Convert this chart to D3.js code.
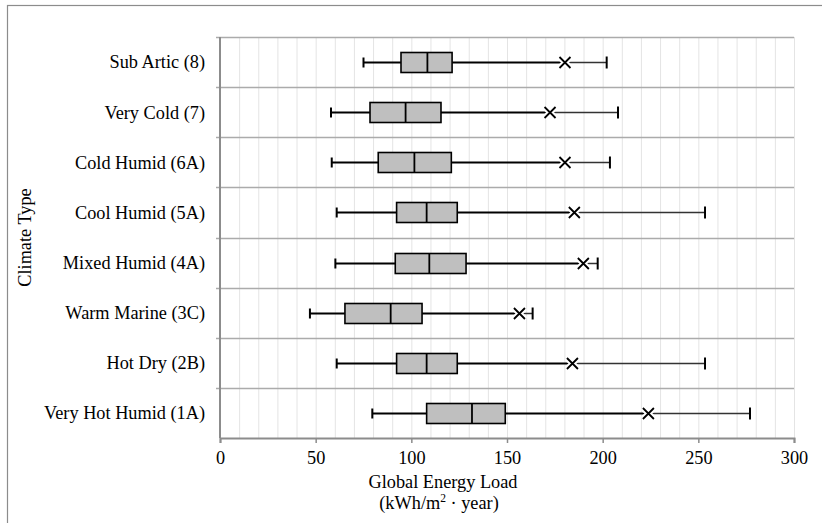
<!DOCTYPE html>
<html>
<head>
<meta charset="utf-8">
<script src="https://cdn.jsdelivr.net/npm/d3@7"></script>
<style>
  body { margin: 0; background: #fff; }
</style>
</head>
<body>
<div id="chart"></div>
<script>
// climate zones, top to bottom
var climates = ["Sub Artic (8)", "Very Cold (7)", "Cold Humid (6A)", "Cool Humid (5A)",
                "Mixed Humid (4A)", "Warm Marine (3C)", "Hot Dry (2B)", "Very Hot Humid (1A)"];
var mins    = [75, 58, 58.4, 61, 60.3, 47, 61, 79.6];
var q1s     = [94.6, 78.4, 82.7, 92.3, 91.6, 65.3, 92.3, 108];
var medians = [108.4, 97, 101.6, 108, 109.4, 89.2, 108, 131.7];
var q3s     = [121.3, 115.5, 120.9, 124, 128.6, 105.6, 124, 149.1];
var means   = [180.3, 172.5, 180.3, 185.2, 189.9, 156.5, 184.2, 223.9];
var maxs    = [202.1, 208, 203.8, 253.5, 197.4, 163.4, 253.5, 277];
var xTicks  = [0, 50, 100, 150, 200, 250, 300];

var FONT = "'Liberation Serif'";
var FS = "18.3px";

var W = 822, H = 523;
var margin = {top: 37, right: 28, bottom: 85, left: 220};
var width = W - margin.left - margin.right,
    height = H - margin.top - margin.bottom;

var svg = d3.select("#chart").append("svg")
    .attr("width", W).attr("height", H);

// outer frame
svg.append("rect")
    .attr("x", 7.5).attr("y", 5.5)
    .attr("width", W).attr("height", H)
    .attr("fill", "none").attr("stroke", "#8c8c8c").attr("stroke-width", 1.2);

var g = svg.append("g").attr("transform", "translate(" + margin.left + "," + margin.top + ")");

var x = d3.scaleLinear().domain([0, 300]).range([0, width]);
var y = d3.scaleBand().domain(climates).range([0, height]);

// minor vertical grid every 10
g.selectAll(".vgrid").data(d3.range(10, 301, 10)).enter().append("line")
    .attr("x1", function(d){ return x(d) + 0.5; }).attr("x2", function(d){ return x(d) + 0.5; })
    .attr("y1", 0).attr("y2", height)
    .attr("stroke", "#e4e4e4").attr("stroke-width", 1);

// horizontal separators between categories
var seps = climates.map(function(c){ return y(c); });
g.selectAll(".hgrid").data(seps).enter().append("line")
    .attr("x1", -4).attr("x2", width)
    .attr("y1", function(d){ return Math.round(d) + 0.5; })
    .attr("y2", function(d){ return Math.round(d) + 0.5; })
    .attr("stroke", "#ababab").attr("stroke-width", 1.3);

// axes
var xAxis = d3.axisBottom(x).tickValues(xTicks).tickSize(5).tickPadding(8);
var gX = g.append("g").attr("transform", "translate(0," + height + ")").call(xAxis);
gX.attr("font-family", null).attr("font-size", null);
gX.select(".domain").attr("stroke", "#8c8c8c").attr("stroke-width", 2);
gX.selectAll(".tick line").attr("stroke", "#8c8c8c").attr("stroke-width", 1.5);
gX.selectAll(".tick text").style("font-size", FS).style("font-family", FONT).attr("fill", "#000");

g.append("line").attr("x1", 0).attr("x2", 0).attr("y1", 0).attr("y2", height)
    .attr("stroke", "#8c8c8c").attr("stroke-width", 2);

// category labels
g.selectAll(".ylab").data(climates).enter().append("text")
    .attr("x", -15)
    .attr("y", function(d){ return y(d) + y.bandwidth() / 2; })
    .attr("dy", "0.35em")
    .attr("text-anchor", "end")
    .style("font-family", FONT).style("font-size", FS)
    .text(function(d){ return d; });

// boxes
var boxH = 20, capH = 10, xs = 5.5;
climates.forEach(function(c, i) {
  var cy = Math.round(y(c) + y.bandwidth() / 2) + 0.5;
  var row = g.append("g");

  // right whisker, mean to max (thin)
  row.append("line").attr("x1", x(means[i])).attr("x2", x(maxs[i]))
      .attr("y1", cy).attr("y2", cy).attr("stroke", "#333").attr("stroke-width", 1.5);
  row.append("line").attr("x1", x(maxs[i])).attr("x2", x(maxs[i]))
      .attr("y1", cy - capH/2 - 1).attr("y2", cy + capH/2 + 1).attr("stroke", "#000").attr("stroke-width", 2);

  // Q3 to mean (thick)
  row.append("line").attr("x1", x(q3s[i])).attr("x2", x(means[i]))
      .attr("y1", cy).attr("y2", cy).attr("stroke", "#000").attr("stroke-width", 2.2);

  // left whisker
  row.append("line").attr("x1", x(mins[i])).attr("x2", x(q1s[i]))
      .attr("y1", cy).attr("y2", cy).attr("stroke", "#000").attr("stroke-width", 2);
  row.append("line").attr("x1", x(mins[i])).attr("x2", x(mins[i]))
      .attr("y1", cy - capH/2).attr("y2", cy + capH/2).attr("stroke", "#000").attr("stroke-width", 2);

  // box
  row.append("rect")
      .attr("x", x(q1s[i])).attr("y", cy - boxH/2)
      .attr("width", x(q3s[i]) - x(q1s[i])).attr("height", boxH)
      .attr("fill", "#bfbfbf").attr("stroke", "#000").attr("stroke-width", 1.6);
  row.append("line").attr("x1", x(medians[i])).attr("x2", x(medians[i]))
      .attr("y1", cy - boxH/2).attr("y2", cy + boxH/2).attr("stroke", "#000").attr("stroke-width", 1.8);

  // mean marker with white halo
  var mx = x(means[i]);
  [["#fff", 6], ["#000", 1.8]].forEach(function(s) {
    row.append("path")
        .attr("d", "M" + (mx - xs) + "," + (cy - xs) + "L" + (mx + xs) + "," + (cy + xs) +
                   "M" + (mx - xs) + "," + (cy + xs) + "L" + (mx + xs) + "," + (cy - xs))
        .attr("stroke", s[0]).attr("stroke-width", s[1]).attr("fill", "none");
  });
});

// axis titles
svg.append("text")
    .attr("x", 443).attr("y", 482).attr("dy", "0.35em")
    .attr("text-anchor", "middle")
    .style("font-family", FONT).style("font-size", FS)
    .text("Global Energy Load");
var t2 = svg.append("text")
    .attr("x", 439).attr("y", 503).attr("dy", "0.35em")
    .attr("text-anchor", "middle")
    .style("font-family", FONT).style("font-size", FS);
t2.append("tspan").text("(kWh/m");
t2.append("tspan").style("font-size", "11.5px").attr("dy", -7).text("2");
t2.append("tspan").attr("dy", 7).text(" \u00b7 year)");

svg.append("text")
    .attr("transform", "translate(31," + (margin.top + height / 2) + ") rotate(-90)")
    .attr("text-anchor", "middle")
    .style("font-family", FONT).style("font-size", FS)
    .text("Climate Type");
</script>
</body>
</html>
